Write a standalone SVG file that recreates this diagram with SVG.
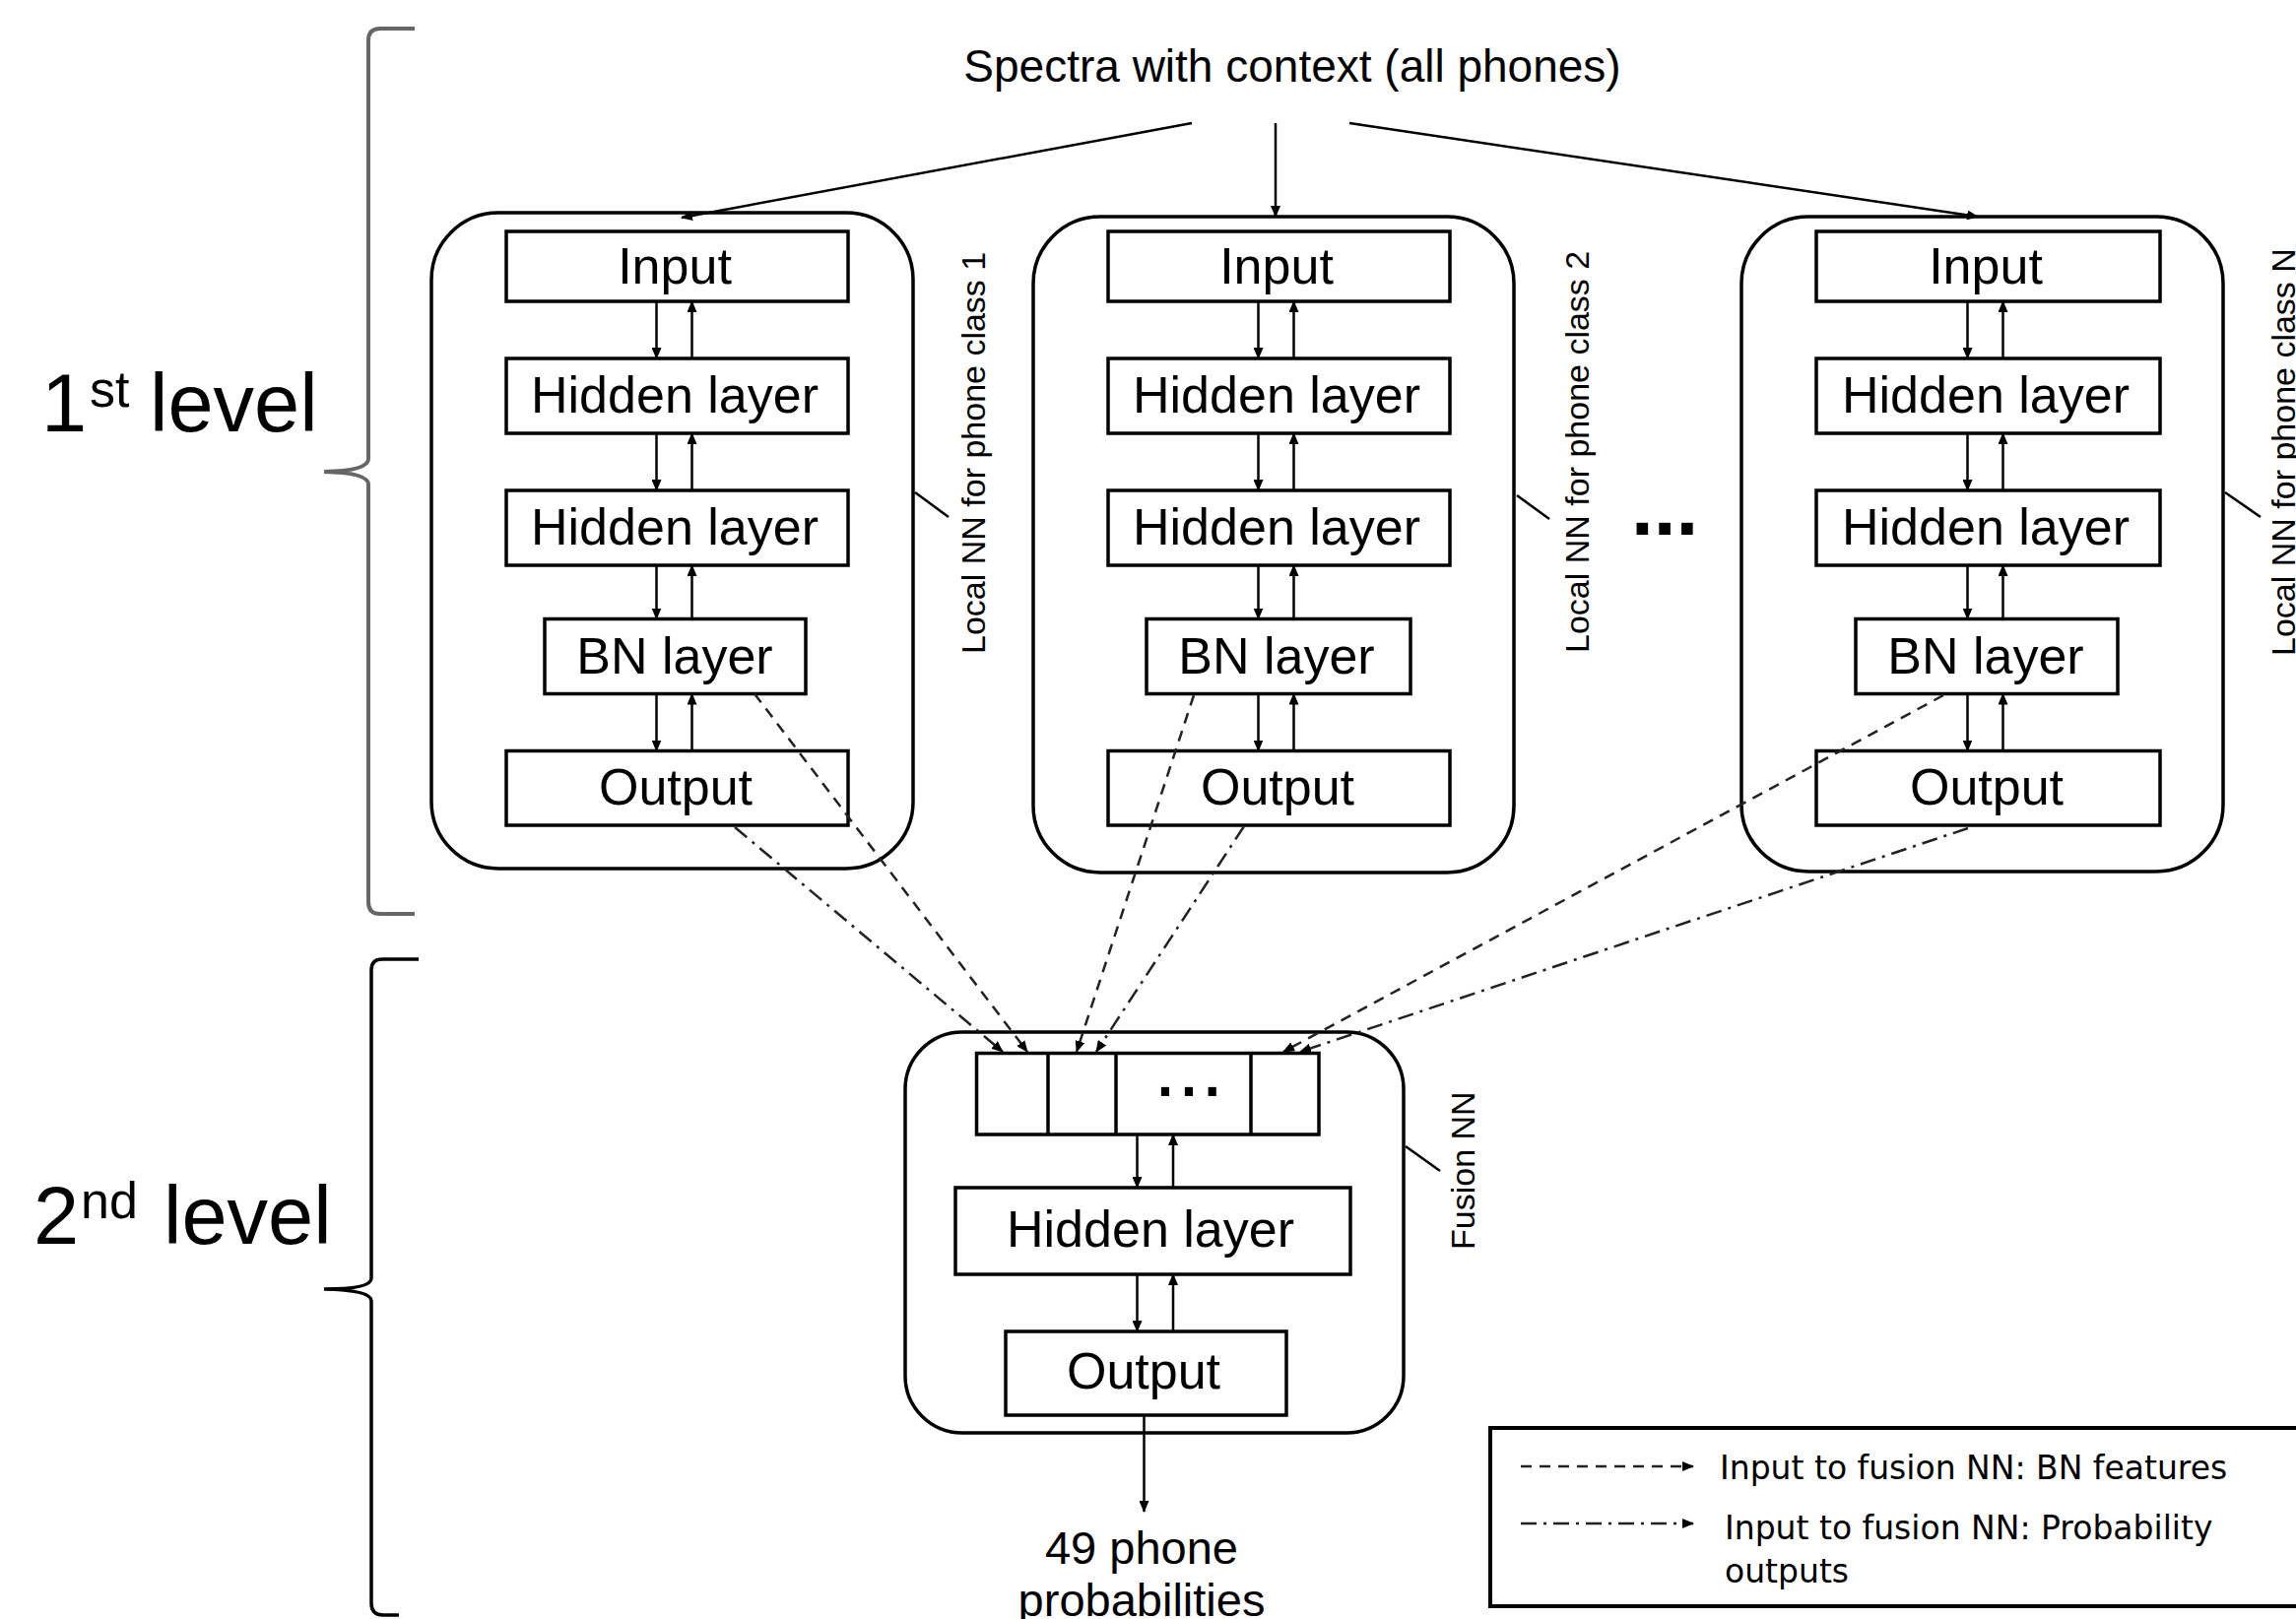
<svg xmlns="http://www.w3.org/2000/svg" width="2331" height="1644" viewBox="0 0 2331 1644">
<style>
text{font-family:"Liberation Sans",Arial,sans-serif;fill:#000}
.outer{fill:none;stroke:#000;stroke-width:3.5}
.box{fill:#fff;stroke:#000;stroke-width:3.5}
.lbl{font-size:52px;text-anchor:middle}
.side{font-size:34px}
.arr{stroke:#000;stroke-width:2.5;fill:none;marker-end:url(#ah)}
.bn{stroke:#222;stroke-width:2.5;fill:none;stroke-dasharray:11 8;marker-end:url(#ah)}
.pr{stroke:#222;stroke-width:2.5;fill:none;stroke-dasharray:16 7 3 7;marker-end:url(#ah)}
.lead{stroke:#000;stroke-width:2.5}
.leg{font-family:"DejaVu Sans",sans-serif;font-size:33px}
</style>
<defs>
<marker id="ah" viewBox="0 0 12 10" refX="11" refY="5" markerWidth="12" markerHeight="10" markerUnits="userSpaceOnUse" orient="auto">
<path d="M0,0 L12,5 L0,10 z" fill="#000"/>
</marker>
</defs>
<rect width="2331" height="1644" fill="#fff"/>

<g id="level1">
<path d="M421,29 L386,29 Q374,29 374,41 L374,466 Q374,478 329,479 Q374,480 374,492 L374,916 Q374,928 386,928 L421,928" fill="none" stroke="#666" stroke-width="4"/>
<text font-size="83"><tspan x="42" y="438">1</tspan><tspan x="91" y="413" font-size="52">st</tspan><tspan x="152" y="438">level</tspan></text>
</g>

<g id="level2">
<path d="M425,974 L388,974 Q377,974 377,985 L377,1298 Q377,1309 329,1309 Q377,1310 377,1321 L377,1628 Q377,1640 389,1640 L405,1640" fill="none" stroke="#000" stroke-width="3.5"/>
<text font-size="83"><tspan x="34" y="1263">2</tspan><tspan x="82" y="1237" font-size="52">nd</tspan><tspan x="166" y="1263">level</tspan></text>
</g>

<g id="spectra">
<text x="1312" y="83" font-size="46" text-anchor="middle">Spectra with context (all phones)</text>
</g>

<g id="nn1">
<rect class="outer" x="438" y="216" width="489" height="666" rx="68"/>
<rect class="box" x="514" y="235" width="347" height="71"/>
<text class="lbl" x="685" y="288">Input</text>
<rect class="box" x="514" y="364" width="347" height="76"/>
<text class="lbl" x="685" y="419">Hidden layer</text>
<rect class="box" x="514" y="498" width="347" height="76"/>
<text class="lbl" x="685" y="553">Hidden layer</text>
<rect class="box" x="553" y="628.5" width="265" height="76"/>
<text class="lbl" x="685" y="684">BN layer</text>
<rect class="box" x="514" y="762.5" width="347" height="75.5"/>
<text class="lbl" x="686" y="817">Output</text>
<line class="lead" x1="929" y1="500" x2="963" y2="525"/>
<text class="side" transform="translate(1000,664) rotate(-90)">Local NN for phone class 1</text>
</g>

<g id="nn2">
<rect class="outer" x="1049" y="220" width="488" height="666" rx="68"/>
<rect class="box" x="1125" y="235" width="347" height="71"/>
<text class="lbl" x="1296" y="288">Input</text>
<rect class="box" x="1125" y="364" width="347" height="76"/>
<text class="lbl" x="1296" y="419">Hidden layer</text>
<rect class="box" x="1125" y="498" width="347" height="76"/>
<text class="lbl" x="1296" y="553">Hidden layer</text>
<rect class="box" x="1164" y="628.5" width="268" height="76"/>
<text class="lbl" x="1296" y="684">BN layer</text>
<rect class="box" x="1125" y="762.5" width="347" height="75.5"/>
<text class="lbl" x="1297" y="817">Output</text>
<line class="lead" x1="1540" y1="503" x2="1573" y2="527"/>
<text class="side" transform="translate(1613,663) rotate(-90)">Local NN for phone class 2</text>
</g>

<g id="ellipsis">
<text x="1656" y="543" font-size="82" font-weight="bold">...</text>
</g>

<g id="nnN">
<rect class="outer" x="1768" y="220" width="489" height="665" rx="68"/>
<rect class="box" x="1844" y="235" width="349" height="71"/>
<text class="lbl" x="2016" y="288">Input</text>
<rect class="box" x="1844" y="364" width="349" height="76"/>
<text class="lbl" x="2016" y="419">Hidden layer</text>
<rect class="box" x="1884" y="628.5" width="266" height="76"/>
<text class="lbl" x="2016" y="684">BN layer</text>
<rect class="box" x="1844" y="498" width="349" height="76"/>
<text class="lbl" x="2016" y="553">Hidden layer</text>
<rect class="box" x="1844" y="762.5" width="349" height="75.5"/>
<text class="lbl" x="2017" y="817">Output</text>
<line class="lead" x1="2259" y1="500" x2="2295" y2="525"/>
<text class="side" transform="translate(2330,666) rotate(-90)">Local NN for phone class N</text>
</g>

<g id="fusion">
<rect class="outer" x="919" y="1048" width="506" height="407" rx="58"/>
<rect class="box" x="991.5" y="1069.5" width="347.5" height="82.5"/>
<line x1="1064" y1="1069.5" x2="1064" y2="1152" stroke="#000" stroke-width="3.5"/>
<line x1="1133" y1="1069.5" x2="1133" y2="1152" stroke="#000" stroke-width="3.5"/>
<line x1="1270" y1="1069.5" x2="1270" y2="1152" stroke="#000" stroke-width="3.5"/>
<text x="1171" y="1113" font-size="86">...</text>
<rect class="box" x="970" y="1206" width="401" height="88"/>
<text class="lbl" x="1168" y="1266">Hidden layer</text>
<rect class="box" x="1021" y="1352" width="285" height="85"/>
<text class="lbl" x="1161" y="1410">Output</text>
<line class="lead" x1="1427" y1="1164" x2="1462" y2="1189"/>
<text class="side" transform="translate(1497,1269) rotate(-90)">Fusion NN</text>
</g>

<g id="result">
<text x="1159" y="1588" font-size="47" text-anchor="middle">49 phone</text>
<text x="1159" y="1641" font-size="47" text-anchor="middle">probabilities</text>
</g>

<g id="legend">
<rect x="1513" y="1450" width="840" height="181" fill="none" stroke="#000" stroke-width="4"/>
<line class="bn" x1="1544" y1="1489" x2="1719" y2="1489"/>
<line class="pr" x1="1544" y1="1547" x2="1719" y2="1547"/>
<text class="leg" x="1746" y="1502">Input to fusion NN: BN features</text>
<text class="leg" x="1751" y="1563">Input to fusion NN: Probability</text>
<text class="leg" x="1751" y="1607">outputs</text>
</g>

<g id="connectors">
<line class="arr" x1="1210" y1="125" x2="692" y2="221"/>
<line class="arr" x1="1295" y1="125" x2="1295" y2="220"/>
<line class="arr" x1="1370" y1="125" x2="2008" y2="220"/>

<line class="arr" x1="666.5" y1="306" x2="666.5" y2="364"/>
<line class="arr" x1="702.5" y1="364" x2="702.5" y2="306"/>
<line class="arr" x1="666.5" y1="440" x2="666.5" y2="498"/>
<line class="arr" x1="702.5" y1="498" x2="702.5" y2="440"/>
<line class="arr" x1="666.5" y1="574" x2="666.5" y2="628.5"/>
<line class="arr" x1="702.5" y1="628.5" x2="702.5" y2="574"/>
<line class="arr" x1="666.5" y1="704.5" x2="666.5" y2="762.5"/>
<line class="arr" x1="702.5" y1="762.5" x2="702.5" y2="704.5"/>

<line class="arr" x1="1277.5" y1="306" x2="1277.5" y2="364"/>
<line class="arr" x1="1313.5" y1="364" x2="1313.5" y2="306"/>
<line class="arr" x1="1277.5" y1="440" x2="1277.5" y2="498"/>
<line class="arr" x1="1313.5" y1="498" x2="1313.5" y2="440"/>
<line class="arr" x1="1277.5" y1="574" x2="1277.5" y2="628.5"/>
<line class="arr" x1="1313.5" y1="628.5" x2="1313.5" y2="574"/>
<line class="arr" x1="1277.5" y1="704.5" x2="1277.5" y2="762.5"/>
<line class="arr" x1="1313.5" y1="762.5" x2="1313.5" y2="704.5"/>

<line class="arr" x1="1997.5" y1="306" x2="1997.5" y2="364"/>
<line class="arr" x1="2033.5" y1="364" x2="2033.5" y2="306"/>
<line class="arr" x1="1997.5" y1="440" x2="1997.5" y2="498"/>
<line class="arr" x1="2033.5" y1="498" x2="2033.5" y2="440"/>
<line class="arr" x1="1997.5" y1="574" x2="1997.5" y2="628.5"/>
<line class="arr" x1="2033.5" y1="628.5" x2="2033.5" y2="574"/>
<line class="arr" x1="1997.5" y1="704.5" x2="1997.5" y2="762.5"/>
<line class="arr" x1="2033.5" y1="762.5" x2="2033.5" y2="704.5"/>

<line class="arr" x1="1154.5" y1="1152" x2="1154.5" y2="1206"/>
<line class="arr" x1="1191" y1="1206" x2="1191" y2="1152"/>
<line class="arr" x1="1154.5" y1="1294" x2="1154.5" y2="1352"/>
<line class="arr" x1="1191" y1="1352" x2="1191" y2="1294"/>
<line class="arr" x1="1161.5" y1="1437" x2="1161.5" y2="1535"/>

<line class="bn" x1="766" y1="704.5" x2="1043" y2="1068"/>
<line class="pr" x1="746" y1="840" x2="1018" y2="1068"/>
<line class="bn" x1="1212" y1="706" x2="1093" y2="1068"/>
<line class="pr" x1="1263" y1="839" x2="1113" y2="1068"/>
<line class="bn" x1="1973" y1="706" x2="1303" y2="1068"/>
<line class="pr" x1="1998" y1="841" x2="1320" y2="1068"/>
</g>
</svg>
